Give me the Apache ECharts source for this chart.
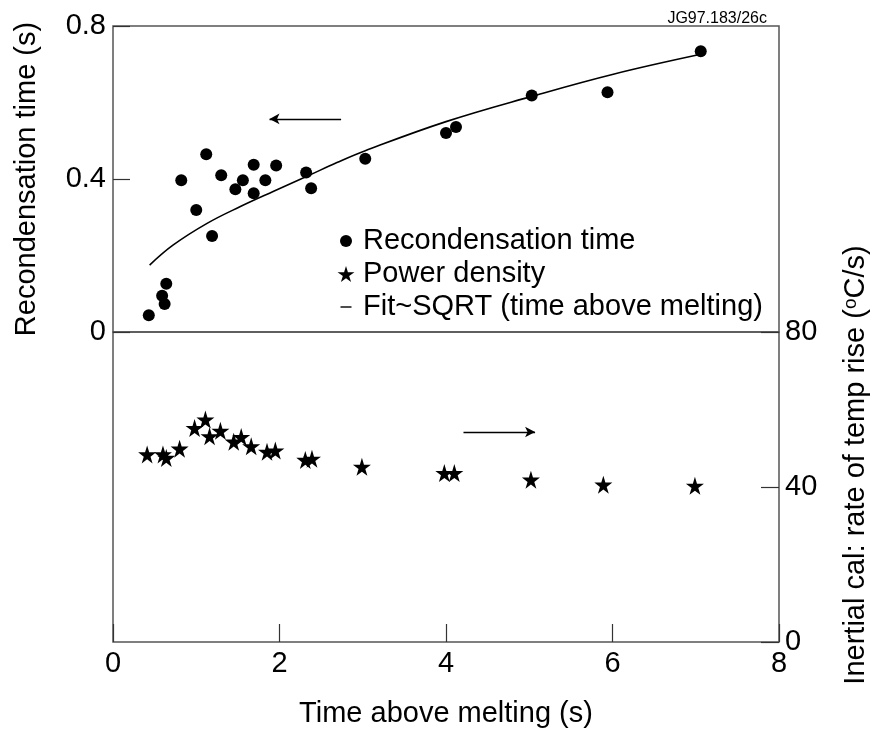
<!DOCTYPE html>
<html>
<head>
<meta charset="utf-8">
<script src="https://cdn.jsdelivr.net/npm/echarts@6/dist/echarts.min.js"></script>
<style>
  html, body { margin: 0; padding: 0; background: #fff; }
  #main { width: 872px; height: 738px; }
</style>
</head>
<body>
<div id="main"></div>
<script>
// recondensation time (top panel, left axis)
var recX = [0.43, 0.59, 0.62, 0.64, 0.82, 1.00, 1.12, 1.19, 1.30, 1.47, 1.56, 1.69, 1.69, 1.83, 1.96, 2.32, 2.38, 3.03, 4.00, 4.12, 5.03, 5.94, 7.06];
var recY = [0.044, 0.095, 0.073, 0.126, 0.397, 0.319, 0.465, 0.251, 0.410, 0.373, 0.397, 0.437, 0.363, 0.397, 0.435, 0.417, 0.376, 0.453, 0.520, 0.536, 0.618, 0.627, 0.734];

// power density (bottom panel, right axis)
var powX = [0.41, 0.60, 0.64, 0.80, 0.98, 1.11, 1.16, 1.29, 1.45, 1.54, 1.66, 1.85, 1.95, 2.31, 2.39, 2.99, 3.98, 4.10, 5.02, 5.89, 6.99];
var powY = [48.4, 48.4, 47.5, 49.9, 55.2, 57.4, 53.1, 54.5, 51.7, 52.9, 50.5, 49.1, 49.4, 47.0, 47.3, 45.2, 43.6, 43.6, 41.9, 40.6, 40.3];

// fit curve
var fitX = [0.44, 0.72, 1.13, 1.53, 1.93, 2.33, 2.69, 3.03, 4.0, 5.03, 6.01, 7.06];
var fitY = [0.175, 0.227, 0.284, 0.328, 0.368, 0.407, 0.443, 0.474, 0.55, 0.616, 0.674, 0.726];

// arrows pointing at the axis each series belongs to
var arrowLeft = [[2.74, 0.557], [1.88, 0.557]];
var arrowRight = [[4.21, 54.2], [5.07, 54.2]];

var xTicks = [0, 8, 2];
var leftTicks = [0, 0.8, 0.4];
var rightTicks = [0, 80, 40];

var FONT = "'Liberation Sans', Arial, sans-serif";
var STAR = 'path://M50,0 L61,35 L98,35 L68,57 L79,91 L50,70 L21,91 L32,57 L2,35 L39,35 Z';
// legend icons: outer move-to points only widen the box so the marks keep their size
var DOT = 'path://M0,0 M24,16 M12,2 A6,6 0 1,1 12,14 A6,6 0 1,1 12,2 Z';
var DASH = 'path://M0,0 M24,16 M6.5,7.3 L17.5,7.3 L17.5,8.7 L6.5,8.7 Z';

function zip(a, b) {
    return a.map(function (v, i) { return [v, b[i]]; });
}

var chartDom = document.getElementById('main');
var myChart = echarts.init(chartDom);
var option;

var axisCol = '#555';

option = {
    animation: false,
    textStyle: { fontFamily: FONT },
    title: {
        text: 'JG97.183/26c',
        right: 100,
        top: 6,
        textStyle: { fontSize: 16, fontWeight: 'normal', color: '#000', fontFamily: FONT }
    },
    legend: {
        orient: 'vertical',
        left: 334,
        top: 226,
        padding: 0,
        itemWidth: 24,
        itemHeight: 16,
        itemGap: 3,
        textStyle: { fontSize: 29, color: '#000', lineHeight: 30, fontFamily: FONT },
        data: [
            { name: 'Recondensation time', icon: DOT },
            { name: 'Power density', icon: STAR },
            { name: 'Fit~SQRT (time above melting)', icon: DASH }
        ]
    },
    grid: [
        { left: 113, right: 93, top: 26, height: 306, show: true, borderColor: axisCol, borderWidth: 1.5,
          containLabel: false, outerBoundsMode: 'none' },
        { left: 113, right: 93, top: 332, height: 310, show: true, borderColor: axisCol, borderWidth: 1.5,
          containLabel: false, outerBoundsMode: 'none' }
    ],
    xAxis: [
        {
            gridIndex: 0, type: 'value', min: xTicks[0], max: xTicks[1], interval: xTicks[2],
            axisLine: { show: false, onZero: false }, axisTick: { show: false }, axisLabel: { show: false },
            splitLine: { show: false }
        },
        {
            gridIndex: 1, type: 'value', min: xTicks[0], max: xTicks[1], interval: xTicks[2],
            name: 'Time above melting (s)',
            nameLocation: 'middle',
            nameGap: 57,
            nameTextStyle: { fontSize: 29, color: '#000' },
            axisLine: { show: false, onZero: false },
            axisTick: { inside: true, length: 18, lineStyle: { color: '#333', width: 1.2 } },
            axisLabel: { fontSize: 29, color: '#000', margin: 7 },
            splitLine: { show: false }
        }
    ],
    yAxis: [
        {
            gridIndex: 0, type: 'value', position: 'left',
            min: leftTicks[0], max: leftTicks[1], interval: leftTicks[2],
            name: 'Recondensation time (s)',
            nameLocation: 'middle',
            nameGap: 72,
            nameTextStyle: { fontSize: 29, color: '#000' },
            axisLine: { show: false, onZero: false },
            axisTick: { inside: true, length: 17, lineStyle: { color: '#333', width: 1.2 } },
            axisLabel: { fontSize: 29, color: '#000', margin: 7 },
            splitLine: { show: false }
        },
        {
            gridIndex: 1, type: 'value', position: 'right',
            min: rightTicks[0], max: rightTicks[1], interval: rightTicks[2],
            name: 'Inertial cal: rate of temp rise ({sup|o}C/s)',
            nameLocation: 'middle',
            nameRotate: 90,
            nameGap: 62,
            nameTextStyle: {
                fontSize: 29, color: '#000', lineHeight: 30,
                padding: [0, 0, 0, 44],
                rich: {
                    sup: { fontSize: 19, color: '#000', verticalAlign: 'top', lineHeight: 30, padding: [0, 0, 10, 0] }
                }
            },
            axisLine: { show: false, onZero: false },
            axisTick: { inside: true, length: 18, lineStyle: { color: '#333', width: 1.2 } },
            axisLabel: { fontSize: 29, color: '#000', margin: 6 },
            splitLine: { show: false }
        }
    ],
    series: [
        {
            name: 'Recondensation time',
            type: 'scatter',
            xAxisIndex: 0,
            yAxisIndex: 0,
            symbol: 'circle',
            symbolSize: 12,
            itemStyle: { color: '#000', opacity: 1 },
            data: zip(recX, recY),
            markLine: {
                silent: true,
                symbol: ['none', 'arrow'],
                symbolSize: [8, 10],
                label: { show: false },
                lineStyle: { color: '#000', width: 1.3, type: 'solid' },
                data: [[{ coord: arrowLeft[0] }, { coord: arrowLeft[1] }]]
            }
        },
        {
            name: 'Power density',
            type: 'scatter',
            xAxisIndex: 1,
            yAxisIndex: 1,
            symbol: STAR,
            symbolSize: 18,
            itemStyle: { color: '#000', opacity: 1 },
            data: zip(powX, powY),
            markLine: {
                silent: true,
                symbol: ['none', 'arrow'],
                symbolSize: [8, 10],
                label: { show: false },
                lineStyle: { color: '#000', width: 1.3, type: 'solid' },
                data: [[{ coord: arrowRight[0] }, { coord: arrowRight[1] }]]
            }
        },
        {
            name: 'Fit~SQRT (time above melting)',
            type: 'line',
            xAxisIndex: 0,
            yAxisIndex: 0,
            smooth: 0.4,
            showSymbol: false,
            symbol: 'none',
            itemStyle: { color: '#000' },
            lineStyle: { color: '#000', width: 1.6 },
            data: zip(fitX, fitY)
        }
    ]
};

option && myChart.setOption(option);
</script>
</body>
</html>
